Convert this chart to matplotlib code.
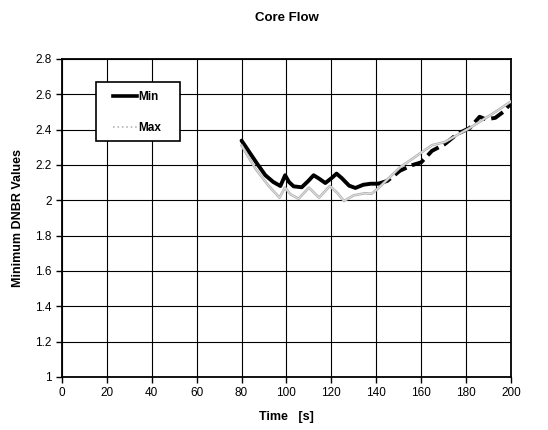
import matplotlib
matplotlib.use("Agg")
from matplotlib import pyplot as plt
from matplotlib.lines import Line2D
from matplotlib.patches import Rectangle

plt.rcParams['font.family'] = ['Liberation Sans', 'DejaVu Sans']

# Minimum DNBR along the transient (black = min, grey = max)
min_time = [80, 83.5, 87, 90.6, 94.1, 97.3, 99.4, 101.1, 103.2, 106.8, 109.6, 112.1,
            114.5, 117.3, 120.1, 122.3, 124.6, 127.9, 130.7, 134.2, 137.5, 140.8]
min_dnbr = [2.338, 2.272, 2.206, 2.142, 2.104, 2.081, 2.142, 2.104, 2.079, 2.074, 2.108, 2.142,
            2.123, 2.098, 2.126, 2.151, 2.126, 2.083, 2.07, 2.088, 2.094, 2.094]
min_time_late = [140.8, 144.9, 150.6, 156.2, 160, 164.8, 170.5, 176.1, 181.7, 186, 188.8,
                 193, 196.5, 200]
min_dnbr_late = [2.094, 2.11, 2.168, 2.2, 2.215, 2.28, 2.318, 2.376, 2.41, 2.473, 2.458,
                 2.467, 2.5, 2.55]

max_time = [80, 86.3, 92, 96.9, 99.3, 101.8, 105.4, 110, 114.5, 119.3, 122.8, 125.6, 129.9,
            134.9, 137.9, 140.7, 150.6, 164.8, 170.5, 181.7, 193, 200]
max_dnbr = [2.31, 2.177, 2.083, 2.015, 2.072, 2.034, 2.009, 2.072, 2.015, 2.081, 2.04, 1.996,
            2.028, 2.04, 2.037, 2.066, 2.187, 2.312, 2.33, 2.41, 2.5, 2.56]

x_ticks = list(range(0, 201, 20))
y_ticks = [1, 1.2, 1.4, 1.6, 1.8, 2, 2.2, 2.4, 2.6, 2.8]
y_labels = ['1', '1.2', '1.4', '1.6', '1.8', '2', '2.2', '2.4', '2.6', '2.8']


def main():
    fig = plt.figure(figsize=(5.48, 4.30), dpi=100)
    ax = fig.add_axes([0.113, 0.1233, 0.8195, 0.7395])

    ax.plot(min_time, min_dnbr, color='black', lw=2.8, solid_capstyle='round',
            solid_joinstyle='round', zorder=3)
    ax.plot(min_time_late, min_dnbr_late, color='black', lw=2.8, ls=(0, (3.5, 1.5)),
            dash_joinstyle='round', zorder=3)
    # grey line has a pale core
    ax.plot(max_time, max_dnbr, color='#b4b4b4', lw=1.9, solid_joinstyle='round', zorder=4)
    ax.plot(max_time, max_dnbr, color='#e6e6e6', lw=0.6, solid_joinstyle='round', zorder=5)

    ax.set_xlim(0, 200)
    ax.set_ylim(1, 2.8)
    ax.set_xticks(x_ticks)
    ax.set_yticks(y_ticks)
    ax.set_yticklabels(y_labels)
    ax.tick_params(direction='out', length=4, width=1, labelsize=8.5, color='black')
    ax.grid(True, color='black', lw=0.8)
    ax.set_axisbelow(True)
    for side in ax.spines.values():
        side.set_linewidth(1.3)

    ax.set_title('Core Flow', fontsize=9.5, fontweight='bold', pad=27)
    ax.set_xlabel('Time   [s]', fontsize=9, fontweight='bold', labelpad=8)
    ax.set_ylabel('Minimum DNBR Values', fontsize=9, fontweight='bold', labelpad=8)

    # legend box drawn by hand, keys placed inside it
    box = Rectangle((0.0757, 0.742), 0.187, 0.187, transform=ax.transAxes,
                    facecolor='white', edgecolor='black', lw=1.2, zorder=6)
    ax.add_patch(box)
    handles = [Line2D([], [], color='black', lw=2.6),
               Line2D([], [], color='#b8b8b8', lw=1.2, ls=':')]
    leg = ax.legend(handles, ['Min', 'Max'], loc='upper left', bbox_to_anchor=(0.113, 0.9),
                    frameon=False, prop={'weight': 'bold', 'size': 8.5}, handlelength=2.1,
                    handletextpad=0.05, labelspacing=1.6, borderpad=0, borderaxespad=0)
    leg.set_zorder(7)

    fig.savefig('out.png', dpi=100)


if __name__ == "__main__":
    main()
